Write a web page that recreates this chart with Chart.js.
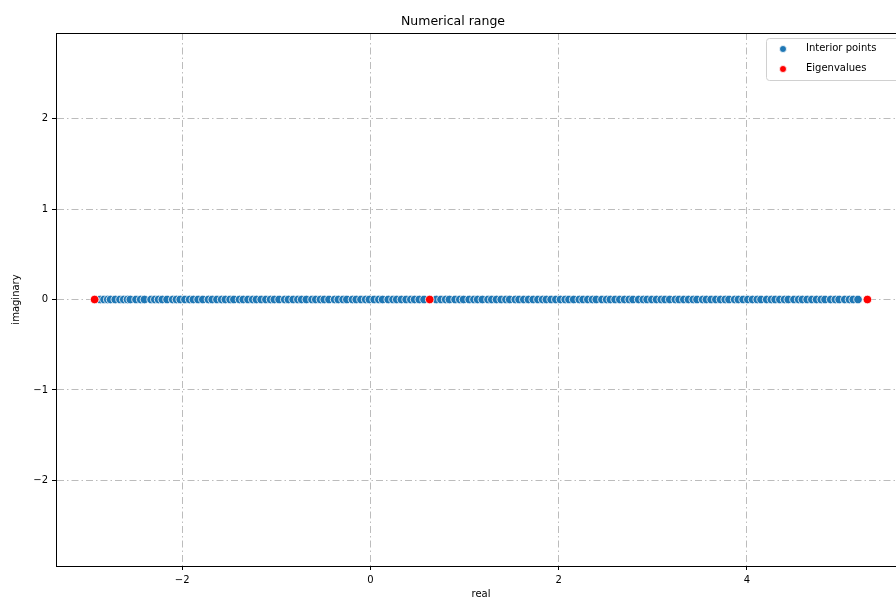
<!DOCTYPE html>
<html>
<head>
<meta charset="utf-8">
<script src="https://cdn.jsdelivr.net/npm/chart.js@4/dist/chart.umd.min.js"></script>
<style>
html,body{margin:0;padding:0;background:#fff;overflow:hidden;width:896px;height:601px;}
#wrap{width:960px;height:601px;}
</style>
</head>
<body>
<div id="wrap"><canvas id="c" width="960" height="601"></canvas></div>
<script>
// ---- data ----
const titleText = "Numerical range";
const xLabel = "real";
const yLabel = "imaginary";
const seriesNames = ["Interior points", "Eigenvalues"];
const interiorReal = [-2.87, -2.83, -2.79, -2.76, -2.71, -2.66, -2.62, -2.58, -2.55, -2.49, -2.44, -2.40, -2.33, -2.29, -2.25, -2.21, -2.16, -2.10, -2.06, -2.02, -1.97, -1.92, -1.88, -1.83, -1.78, -1.72, -1.68, -1.63, -1.58, -1.54, -1.49, -1.45, -1.39, -1.35, -1.30, -1.25, -1.21, -1.16, -1.11, -1.06, -1.02, -0.97, -0.91, -0.87, -0.82, -0.77, -0.73, -0.68, -0.62, -0.58, -0.53, -0.49, -0.44, -0.38, -0.34, -0.29, -0.25, -0.19, -0.15, -0.10, -0.05, -0.01, 0.04, 0.09, 0.13, 0.19, 0.24, 0.28, 0.33, 0.38, 0.43, 0.47, 0.52, 0.57, 0.70, 0.75, 0.80, 0.84, 0.90, 0.95, 0.99, 1.05, 1.10, 1.14, 1.19, 1.25, 1.29, 1.34, 1.39, 1.44, 1.48, 1.54, 1.58, 1.63, 1.68, 1.73, 1.78, 1.83, 1.87, 1.92, 1.97, 2.02, 2.07, 2.11, 2.16, 2.22, 2.26, 2.31, 2.36, 2.40, 2.46, 2.51, 2.55, 2.60, 2.65, 2.70, 2.75, 2.79, 2.85, 2.90, 2.94, 2.99, 3.04, 3.09, 3.13, 3.18, 3.24, 3.28, 3.33, 3.38, 3.43, 3.47, 3.53, 3.57, 3.62, 3.67, 3.72, 3.77, 3.81, 3.87, 3.91, 3.96, 4.01, 4.06, 4.11, 4.15, 4.21, 4.26, 4.30, 4.35, 4.40, 4.44, 4.50, 4.55, 4.59, 4.64, 4.69, 4.74, 4.79, 4.83, 4.89, 4.94, 4.98, 5.04, 5.09, 5.13, 5.18];
const interiorImag = 0; // every interior point lies on the real axis
const eigReal = [-2.93, 0.63, 5.28];
const eigImag = [0, 0, 0];
const xTicks = [-2, 0, 2, 4];
const yTicks = [-2, -1, 0, 1, 2];
const xRange = [-3.34, 5.69];
const yRange = [-2.945, 2.945];

const interiorPts = interiorReal.map(v => ({x: v, y: interiorImag}));
const eigPts = eigReal.map((v, i) => ({x: v, y: eigImag[i]}));
const BLUE = '#1f77b4', RED = '#ff0000';
const FONT = "'DejaVu Sans', sans-serif";
const fmt = v => (v < 0 ? '\u2212' + Math.abs(v) : String(v));

const framePlugin = {
  id: 'frame',
  afterDraw(chart) {
    const {ctx, chartArea: a} = chart;
    ctx.save();
    ctx.setLineDash([]);
    ctx.strokeStyle = '#000';
    ctx.lineWidth = 1;
    ctx.strokeRect(Math.round(a.left) + 0.5, Math.round(a.top) + 0.5, Math.round(a.right - a.left), Math.round(a.bottom - a.top));
    // legend box
    const bx = 766.5, by = 38.5, bw = 135, bh = 42;
    ctx.beginPath();
    if (ctx.roundRect) ctx.roundRect(bx, by, bw, bh, 3); else ctx.rect(bx, by, bw, bh);
    ctx.fillStyle = 'rgba(255,255,255,0.85)';
    ctx.fill();
    ctx.strokeStyle = '#d0d0d0';
    ctx.stroke();
    const cols = [BLUE, RED];
    ctx.font = '10px ' + FONT;
    ctx.textBaseline = 'middle';
    ctx.textAlign = 'left';
    seriesNames.forEach((name, i) => {
      const y = 48 + i * 20;
      ctx.beginPath();
      ctx.arc(783, y + 1, 3.5, 0, Math.PI * 2);
      ctx.fillStyle = cols[i];
      ctx.fill();
      ctx.strokeStyle = '#fff';
      ctx.lineWidth = 0.8;
      ctx.stroke();
      ctx.fillStyle = '#000';
      ctx.fillText(name, 806, y);
    });
    ctx.restore();
  }
};

const gridCommon = {
  color: 'rgba(176,176,176,0.85)',
  lineWidth: 1,
  drawTicks: true,
  tickLength: 4,
  tickColor: '#000',
  tickBorderDash: [],
  tickWidth: 1
};
const borderCommon = {display: true, color: '#000', width: 1, dash: [7, 3, 1.5, 3]};

new Chart(document.getElementById('c'), {
  type: 'scatter',
  data: {
    datasets: [
      {label: seriesNames[0], data: interiorPts, backgroundColor: BLUE, borderColor: '#fff', borderWidth: 0.8, pointRadius: 4.3, order: 2},
      {label: seriesNames[1], data: eigPts, backgroundColor: RED, borderColor: '#fff', borderWidth: 0.8, pointRadius: 4.3, order: 1}
    ]
  },
  options: {
    responsive: false,
    animation: false,
    layout: {padding: {left: 0, right: 54, top: 0, bottom: 0}},
    plugins: {
      legend: {display: false},
      tooltip: {enabled: false},
      title: {
        display: true, text: titleText, color: '#000',
        font: {family: FONT, size: 12.5, weight: 'normal'},
        padding: {top: 14, bottom: 4}
      }
    },
    scales: {
      x: {
        type: 'linear', min: xRange[0], max: xRange[1],
        afterBuildTicks: s => { s.ticks = xTicks.map(v => ({value: v})); },
        afterFit: s => { s.height = 35; },
        ticks: {font: {family: FONT, size: 10}, color: '#000', padding: 4, callback: fmt, includeBounds: false},
        grid: gridCommon,
        border: borderCommon,
        title: {display: true, text: xLabel, color: '#000', font: {family: FONT, size: 10}, padding: {top: 0, bottom: 1}}
      },
      y: {
        type: 'linear', min: yRange[0], max: yRange[1],
        afterBuildTicks: s => { s.ticks = yTicks.map(v => ({value: v})); },
        afterFit: s => { s.width = 56; },
        ticks: {font: {family: FONT, size: 10}, color: '#000', padding: 4, callback: fmt, includeBounds: false},
        grid: gridCommon,
        border: borderCommon,
        title: {display: true, text: yLabel, color: '#000', font: {family: FONT, size: 10}, padding: {top: 10, bottom: 0}}
      }
    }
  },
  plugins: [framePlugin]
});
</script>
</body>
</html>
